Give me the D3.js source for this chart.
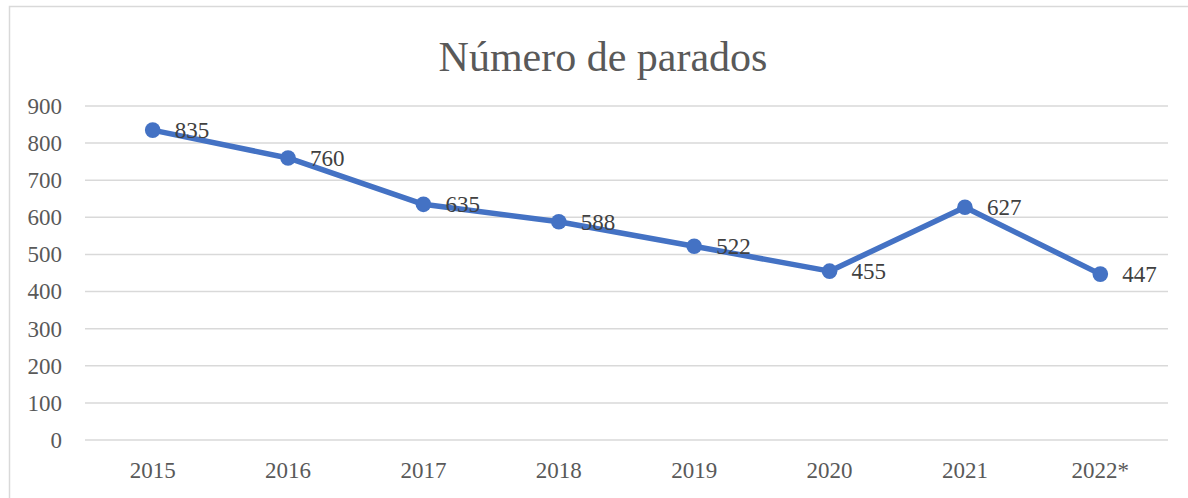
<!DOCTYPE html>
<html>
<head>
<meta charset="utf-8">
<script src="https://cdn.jsdelivr.net/npm/d3@7"></script>
<style>
  body { margin: 0; background: #fff; }
  svg { display: block; }
  svg text { font-family: "Liberation Serif", "DejaVu Serif", serif; }
</style>
</head>
<body>
<div id="chart"></div>
<script>
const years = ["2015", "2016", "2017", "2018", "2019", "2020", "2021", "2022*"];
const parados = [835, 760, 635, 588, 522, 455, 627, 447];
const yTicks = [0, 100, 200, 300, 400, 500, 600, 700, 800, 900];

const W = 1188, H = 498;
const margin = {top: 106, right: 20, bottom: 58, left: 85};
const width = 1168 - margin.left;
const height = 440 - margin.top;

const data = years.map((y, i) => ({year: y, value: parados[i]}));

const svg = d3.select("#chart").append("svg")
    .attr("width", W)
    .attr("height", H);

// Chart area border
svg.append("rect")
    .attr("x", 9.5)
    .attr("y", 6.5)
    .attr("width", W)
    .attr("height", H)
    .attr("fill", "none")
    .attr("stroke", "#d9d9d9")
    .attr("stroke-width", 1.5);

const g = svg.append("g")
    .attr("transform", `translate(${margin.left},${margin.top})`);

const x = d3.scaleBand()
    .domain(years)
    .range([0, width]);

const y = d3.scaleLinear()
    .domain([0, 900])
    .range([height, 0]);

// Gridlines
g.append("g")
    .selectAll("line")
    .data(yTicks)
    .enter().append("line")
    .attr("x1", 0)
    .attr("x2", width)
    .attr("y1", d => y(d))
    .attr("y2", d => y(d))
    .attr("stroke", "#d9d9d9")
    .attr("stroke-width", 1.5);

// Y axis
const yAxis = g.append("g")
    .call(d3.axisLeft(y).tickValues(yTicks).tickSize(0).tickPadding(23))
    .attr("font-family", null)
    .attr("font-size", null);
yAxis.select(".domain").remove();
yAxis.selectAll("text")
    .style("font-size", "23px")
    .style("fill", "#595959");

// X axis
const xAxis = g.append("g")
    .attr("transform", `translate(0,${height})`)
    .call(d3.axisBottom(x).tickSize(0).tickPadding(22))
    .attr("font-family", null)
    .attr("font-size", null);
xAxis.select(".domain").remove();
xAxis.selectAll("text")
    .style("font-size", "23px")
    .style("fill", "#595959");

// Line
const line = d3.line()
    .x(d => x(d.year) + x.bandwidth() / 2)
    .y(d => y(d.value));

g.append("path")
    .datum(data)
    .attr("fill", "none")
    .attr("stroke", "#4472c4")
    .attr("stroke-width", 5.5)
    .attr("stroke-linejoin", "round")
    .attr("d", line);

// Markers
g.selectAll(".dot")
    .data(data)
    .enter().append("circle")
    .attr("class", "dot")
    .attr("cx", d => x(d.year) + x.bandwidth() / 2)
    .attr("cy", d => y(d.value))
    .attr("r", 7.8)
    .attr("fill", "#4472c4");

// Data labels
g.selectAll(".label")
    .data(data)
    .enter().append("text")
    .attr("class", "label")
    .attr("x", d => x(d.year) + x.bandwidth() / 2 + 22)
    .attr("y", d => y(d.value))
    .attr("dy", "0.35em")
    .style("font-size", "23px")
    .style("fill", "#404040")
    .text(d => d.value);

// Title
svg.append("text")
    .attr("x", 603)
    .attr("y", 71)
    .attr("text-anchor", "middle")
    .style("font-size", "42px")
    .style("fill", "#595959")
    .text("Número de parados");
</script>
</body>
</html>
